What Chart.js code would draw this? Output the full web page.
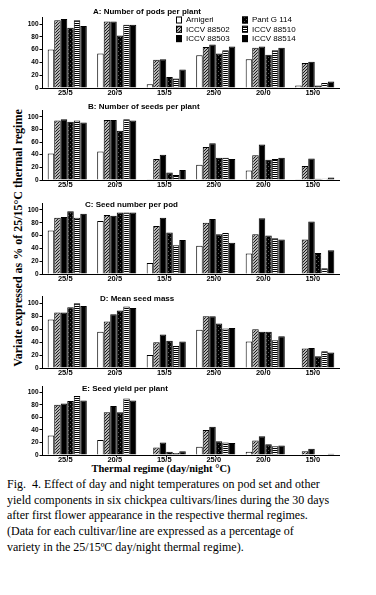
<!DOCTYPE html>
<html>
<head>
<meta charset="utf-8">
<script src="https://cdn.jsdelivr.net/npm/chart.js@4"></script>
<style>
  body { margin: 0; background: #fff; width: 376px; height: 595px; position: relative; overflow: hidden; }
  canvas { position: absolute; left: 0; }
  .ytitle { position: absolute; left: 18px; top: 238px; transform: translate(-50%, -50%) rotate(-90deg);
    font: bold 12px "Liberation Serif", serif; white-space: nowrap; color: #000; }
  .xtitle { position: absolute; left: 161px; top: 467.5px; transform: translate(-50%, -50%);
    font: bold 10.5px "Liberation Serif", serif; white-space: nowrap; color: #000; }
  .caption { position: absolute; left: 7px; top: 477px; font: 12px "Liberation Serif", serif;
    line-height: 15.7px; color: #000; white-space: nowrap; }
</style>
</head>
<body>
<div class="ytitle">Variate expressed as % of 25/15°C thermal regime</div>
<div class="xtitle">Thermal regime (day/night °C)</div>
<div class="caption">Fig.&nbsp; 4. Effect of day and night temperatures on pod set and other<br>yield components in six chickpea cultivars/lines during the 30 days<br>after first flower appearance in the respective thermal regimes.<br>(Data for each cultivar/line are expressed as a percentage of<br>variety in the 25/15ºC day/night thermal regime).</div>
<script>
// categories and series
const regimes = ["25/5", "20/5", "15/5", "25/0", "20/0", "15/0"];
const cultivars = ["Arnigeri", "ICCV 88502", "ICCV 88503", "Pant G 114", "ICCV 88510", "ICCV 88514"];
const yTicks = [0, 20, 40, 60, 80, 100];

// one row per cultivar, one value per regime (% of 25/15 regime)
const podsPerPlant = [
  [60, 54, 6, 51, 45, 4],
  [106, 104, 44, 64, 63, 39],
  [108, 104, 45, 68, 65, 41],
  [94, 82, 17, 54, 52, 4],
  [106, 99, 15, 59, 59, 8],
  [97, 99, 29, 65, 63, 10]
];
const seedsPerPlant = [
  [42, 45, 1, 24, 15, 0.5],
  [94, 95, 33, 52, 39, 22],
  [96, 95, 40, 58, 56, 34],
  [92, 78, 12, 35, 32, 2],
  [94, 96, 8, 35, 33, 2],
  [91, 94, 16, 33, 35, 4]
];
const seedsPerPod = [
  [68, 83, 17, 44, 32, 0],
  [88, 92, 75, 80, 62, 54],
  [89, 91, 88, 86, 87, 82],
  [98, 96, 65, 62, 60, 33],
  [88, 96, 45, 64, 56, 9],
  [94, 96, 53, 49, 54, 37]
];
const meanSeedMass = [
  [75, 56, 20, 59, 41, 0],
  [86, 72, 40, 80, 60, 30],
  [86, 83, 52, 80, 56, 31],
  [94, 89, 42, 69, 56, 18],
  [100, 95, 34, 61, 43, 26],
  [96, 93, 41, 62, 49, 24]
];
const seedYield = [
  [31, 24, 0, 13, 5, 0],
  [80, 68, 12, 40, 23, 6],
  [82, 78, 20, 45, 30, 10],
  [86, 68, 5, 22, 17, 0],
  [94, 90, 3, 20, 14, 0],
  [87, 87, 6, 19, 15, 2]
];

// fill patterns for the bars
function makeFill(kind) {
  const c = document.createElement("canvas");
  const g = c.getContext("2d");
  if (kind === "white") return "#fff";
  if (kind === "black") return "#000";
  if (kind === "hatch") {
    c.width = c.height = 3;
    g.fillStyle = "#b4b4b4"; g.fillRect(0, 0, 3, 3);
    g.fillStyle = "#1a1a1a";
    for (let i = 0; i < 3; i++) g.fillRect(i, 2 - i, 1, 1);
  } else if (kind === "dark") {
    c.width = c.height = 4;
    g.fillStyle = "#000"; g.fillRect(0, 0, 4, 4);
    g.fillStyle = "#555"; g.fillRect(0, 0, 1, 1); g.fillRect(2, 2, 1, 1);
  } else if (kind === "stripes") {
    c.width = 1; c.height = 2;
    g.fillStyle = "#000"; g.fillRect(0, 0, 1, 1);
    g.fillStyle = "#fff"; g.fillRect(0, 1, 1, 1);
  }
  return g.createPattern(c, "repeat");
}
const fills = ["white", "hatch", "black", "dark", "stripes", "black"].map(makeFill);

// panel title drawn inside each canvas
const panelTitle = {
  id: "panelTitle",
  afterDraw(chart, args, opts) {
    const ctx = chart.ctx;
    ctx.save();
    ctx.font = "bold 8px 'Liberation Sans', Arial, sans-serif";
    ctx.fillStyle = "#000";
    ctx.textBaseline = "middle";
    ctx.fillText(opts.text, opts.x, opts.y - opts.canvasTop);
    ctx.restore();
  }
};

// two-column legend for panel A
const panelLegend = {
  id: "panelLegend",
  afterDraw(chart, args, opts) {
    if (!opts.show) return;
    const ctx = chart.ctx;
    ctx.save();
    ctx.font = "8px 'Liberation Sans', Arial, sans-serif";
    ctx.textBaseline = "middle";
    chart.data.datasets.forEach((ds, i) => {
      const col = Math.floor(i / 3), row = i % 3;
      const x = opts.colX[col], y = opts.rowY[row] - opts.canvasTop;
      ctx.fillStyle = ds.backgroundColor;
      ctx.fillRect(x, y - 3.5, 6, 7);
      ctx.strokeStyle = "#000"; ctx.lineWidth = 1;
      ctx.strokeRect(x + 0.5, y - 3, 5, 6);
      ctx.fillStyle = "#000";
      ctx.fillText(ds.label, x + 10, y);
    });
    ctx.restore();
  }
};

const panels = [
  { title: "A: Number of pods per plant", values: podsPerPlant, top: 17.6, bottom: 88, titleX: 93, titleY: 12, legend: true },
  { title: "B: Number of seeds per plant", values: seedsPerPlant, top: 110.4, bottom: 179.3, titleX: 88, titleY: 106.7 },
  { title: "C: Seed number per pod", values: seedsPerPod, top: 203.6, bottom: 273.7, titleX: 85, titleY: 205 },
  { title: "D: Mean seed mass", values: meanSeedMass, top: 296.9, bottom: 367.7, titleX: 100, titleY: 298.3 },
  { title: "E: Seed yield per plant", values: seedYield, top: 386, bottom: 454.7, titleX: 82, titleY: 388.3 }
];

panels.forEach(p => {
  const canvasTop = Math.floor(p.top - 16);
  const h = Math.ceil(p.bottom - canvasTop + 11);
  const canvas = document.createElement("canvas");
  canvas.width = 376; canvas.height = h;
  canvas.style.top = canvasTop + "px";
  document.body.appendChild(canvas);

  new Chart(canvas.getContext("2d"), {
    type: "bar",
    data: {
      labels: regimes,
      datasets: cultivars.map((name, i) => ({
        label: name,
        data: p.values[i],
        backgroundColor: fills[i],
        borderColor: "#000",
        borderWidth: 1,
        borderSkipped: "bottom",
        categoryPercentage: 0.79,
        barPercentage: 1
      }))
    },
    options: {
      responsive: false,
      animation: false,
      events: [],
      layout: { padding: { top: p.top - canvasTop, left: 0, right: 36.5, bottom: 0 } },
      plugins: {
        legend: { display: false },
        tooltip: { enabled: false },
        panelTitle: { text: p.title, x: p.titleX, y: p.titleY, canvasTop: canvasTop },
        panelLegend: { show: !!p.legend, colX: [176, 242], rowY: [20, 29.3, 38.6], canvasTop: canvasTop }
      },
      scales: {
        x: {
          grid: { drawOnChartArea: false, offset: false, tickLength: 2, color: "#000" },
          border: { color: "#000", width: 1 },
          ticks: { color: "#000", padding: -1.5, labelOffset: -2, maxRotation: 0, autoSkip: false,
            font: { family: "'Liberation Sans', Arial, sans-serif", weight: "bold", size: 7.5 } },
          afterFit: s => { s.height = 11; }
        },
        y: {
          min: 0,
          max: 110,
          afterBuildTicks: s => { s.ticks = yTicks.map(v => ({ value: v })); },
          grid: { drawOnChartArea: false, tickLength: 3, color: "#000" },
          border: { color: "#000", width: 1 },
          ticks: { color: "#000", padding: 1,
            font: { family: "'Liberation Sans', Arial, sans-serif", weight: "bold", size: 6.5 } },
          afterFit: s => { s.width = 42.5; }
        }
      }
    },
    plugins: [panelTitle, panelLegend]
  });
});
</script>
</body>
</html>
